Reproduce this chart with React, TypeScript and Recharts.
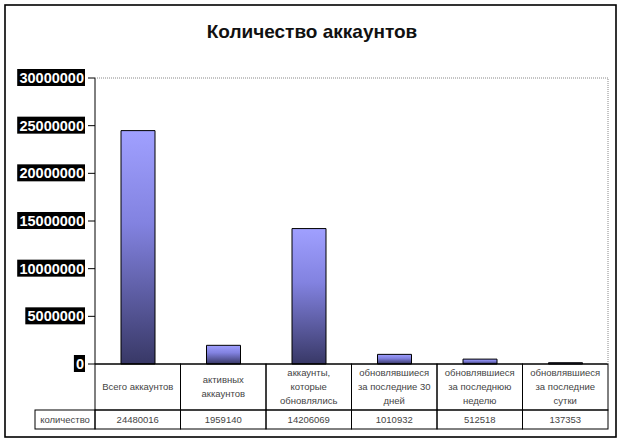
import React from "react";
import { BarChart, Bar, XAxis, YAxis } from "recharts";

const categories = [
  "Всего аккаунтов",
  "активных\nаккаунтов",
  "аккаунты,\nкоторые\nобновлялись",
  "обновлявшиеся\nза последние 30\nдней",
  "обновлявшиеся\nза последнюю\nнеделю",
  "обновлявшиеся\nза последние\nсутки",
];
const counts = [24480016, 1959140, 14206069, 1010932, 512518, 137353];
const yTicks = [0, 5000000, 10000000, 15000000, 20000000, 25000000, 30000000];
const seriesName = "количество";
const title = "Количество аккаунтов";

const data = categories.map((c, i) => ({ name: c, value: counts[i] }));

const W = 623;
const H = 445;
const plotTop = 78;
const plotBottom = 364;
const plotLeft = 95;
const plotRight = 608;
const colW = (plotRight - plotLeft) / categories.length;
const rowSplit = 410;
const tableBottom = 429;
const font = "Arial, 'Liberation Sans', sans-serif";

const YTick = (props: any) => {
  const { x, y, payload } = props;
  const label = String(payload.value);
  const w = label.length * 8.1 + 3;
  return (
    <g>
      <rect x={x - w - 1} y={y - 9} width={w} height={17} fill="#000" />
      <text x={x - 2} y={y + 5} textAnchor="end" fill="#fff" fontSize={14.5} fontWeight="bold" fontFamily={font}>
        {label}
      </text>
    </g>
  );
};

const XTick = (props: any) => {
  const { x, payload, index } = props;
  const lines = String(payload.value).split("\n");
  const mid = (plotBottom + rowSplit) / 2;
  const lh = 14;
  const start = mid - ((lines.length - 1) * lh) / 2 + 3;
  return (
    <g>
      <rect x={x - colW / 2} y={plotBottom} width={colW} height={rowSplit - plotBottom} fill="none" stroke="#000" />
      <rect x={x - colW / 2} y={rowSplit} width={colW} height={tableBottom - rowSplit} fill="none" stroke="#000" />
      {lines.map((l, i) => (
        <text key={i} x={x} y={start + i * lh} textAnchor="middle" fontSize={9.5} fill="#444" fontFamily={font}>
          {l}
        </text>
      ))}
      <text x={x} y={rowSplit + 13} textAnchor="middle" fontSize={9.5} fill="#444" fontFamily={font}>
        {counts[index]}
      </text>
    </g>
  );
};

export default function App() {
  return (
    <div style={{ position: "absolute", left: 0, top: 0, width: W, height: H, background: "#fff" }}>
      <BarChart
        width={W}
        height={H}
        data={data}
        margin={{ top: plotTop, right: W - plotRight, bottom: H - tableBottom, left: 0 }}
        barCategoryGap="30%"
      >
        <defs>
          <linearGradient id="barGrad" x1="0" y1="0" x2="0" y2="1">
            <stop offset="0%" stopColor="#a0a0ff" />
            <stop offset="40%" stopColor="#8282e0" />
            <stop offset="100%" stopColor="#383866" />
          </linearGradient>
        </defs>
        <XAxis
          dataKey="name"
          interval={0}
          height={tableBottom - plotBottom}
          axisLine={{ stroke: "#000" }}
          tickLine={false}
          tick={<XTick />}
        />
        <YAxis
          width={plotLeft}
          domain={[0, 30000000]}
          ticks={yTicks}
          interval={0}
          axisLine={{ stroke: "#000" }}
          tickLine={{ stroke: "#000" }}
          tickSize={7}
          tick={<YTick />}
        />
        <Bar dataKey="value" fill="url(#barGrad)" stroke="#000" strokeWidth={1} barSize={34} isAnimationActive={false} />
      </BarChart>
      <svg width={W} height={H} style={{ position: "absolute", left: 0, top: 0, pointerEvents: "none" }}>
        <rect x={5} y={5} width={611} height={432} fill="none" stroke="#000" strokeWidth={1.6} />
        <text x={312} y={38} textAnchor="middle" fontSize={19} fontWeight="bold" fill="#111" fontFamily={font}>
          {title}
        </text>
        <polyline
          points={`${plotLeft},${plotTop} ${plotRight},${plotTop} ${plotRight},${plotBottom}`}
          fill="none"
          stroke="#888"
          strokeDasharray="1 1"
        />
        <rect x={35} y={rowSplit} width={plotLeft - 35} height={tableBottom - rowSplit} fill="none" stroke="#000" />
        <text x={65} y={rowSplit + 13} textAnchor="middle" fontSize={9.5} fill="#444" fontFamily={font}>
          {seriesName}
        </text>
      </svg>
    </div>
  );
}
